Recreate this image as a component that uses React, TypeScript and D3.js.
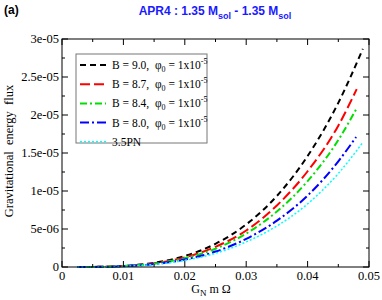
import React from "react";
import * as d3 from "d3";

const xsBlack = [0.0025, 0.005, 0.01, 0.015, 0.02, 0.025, 0.03, 0.035, 0.04, 0.045, 0.049];
const yBlack = [0.0002, 0.0013, 0.0144, 0.055, 0.145, 0.305, 0.56, 0.935, 1.46, 2.16, 2.87];
const xsRed = [0.0025, 0.005, 0.01, 0.015, 0.02, 0.025, 0.03, 0.035, 0.04, 0.045, 0.048];
const yRed = [0.0002, 0.0012, 0.013, 0.049, 0.127, 0.265, 0.48, 0.81, 1.26, 1.86, 2.34];
const xsGreen = [0.0025, 0.005, 0.01, 0.015, 0.02, 0.025, 0.03, 0.035, 0.04, 0.045, 0.048];
const yGreen = [0.0002, 0.0011, 0.012, 0.044, 0.115, 0.24, 0.44, 0.73, 1.13, 1.67, 2.09];
const xsBlue = [0.0025, 0.005, 0.01, 0.015, 0.02, 0.025, 0.03, 0.035, 0.04, 0.045, 0.0479];
const yBlue = [0.0002, 0.001, 0.01, 0.038, 0.098, 0.203, 0.37, 0.61, 0.94, 1.39, 1.71];
const xsCyan = [0.0025, 0.005, 0.01, 0.015, 0.02, 0.025, 0.03, 0.035, 0.04, 0.045, 0.049];
const yCyan = [0.0002, 0.0009, 0.009, 0.034, 0.087, 0.18, 0.33, 0.54, 0.83, 1.23, 1.64];

const xTicks = [0, 0.01, 0.02, 0.03, 0.04, 0.05];
const xTickLabels = ["0", "0.01", "0.02", "0.03", "0.04", "0.05"];
const yTicks = [0, 5e-6, 1e-5, 1.5e-5, 2e-5, 2.5e-5, 3e-5];
const yTickLabels = ["0", "5e-06", "1e-05", "1.5e-05", "2e-05", "2.5e-05", "3e-05"];
const legendB = ["9.0", "8.7", "8.4", "8.0"];

const series = [
  { xs: xsBlack, ys: yBlack, color: "#000000", dash: "6,4", w: 2 },
  { xs: xsRed, ys: yRed, color: "#ff0000", dash: "10,4", w: 2 },
  { xs: xsGreen, ys: yGreen, color: "#00e000", dash: "7,3,2,3", w: 2 },
  { xs: xsBlue, ys: yBlue, color: "#0000ff", dash: "9,3,2,3", w: 2 },
  { xs: xsCyan, ys: yCyan, color: "#00ffff", dash: "2,2", w: 1.5 },
];

export default function App() {
  const L = 62, R = 369, T = 39, B = 267;
  const x = d3.scaleLinear().domain([0, 0.05]).range([L, R]);
  const y = d3.scaleLinear().domain([0, 3e-5]).range([B, T]);
  const line = d3
    .line<[number, number]>()
    .x((d) => x(d[0]))
    .y((d) => y(d[1] * 1e-5))
    .curve(d3.curveMonotoneX);

  const xMinor = d3.range(0.005, 0.05, 0.01);
  const yMinor = d3.range(2.5e-6, 3e-5, 5e-6);
  const serif = "'Liberation Serif', 'DejaVu Serif', serif";
  const sans = "'Liberation Sans', Arial, sans-serif";

  return (
    <svg width={382} height={300} style={{ position: "absolute", left: 0, top: 0, background: "#fff" }}>
      <rect x={0} y={0} width={382} height={300} fill="#fff" />
      <text x={4} y={14} fontFamily={sans} fontWeight="bold" fontSize={12}>(a)</text>
      <text x={215} y={15} fontFamily={sans} fontWeight="bold" fontSize={12} fill="#1a1aff" textAnchor="middle">
        APR4 : 1.35 M<tspan fontSize={9} dy={4}>sol</tspan>
        <tspan dy={-4}> - 1.35 M</tspan>
        <tspan fontSize={9} dy={4}>sol</tspan>
      </text>

      {series.map((s, i) => (
        <path
          key={i}
          d={line(s.xs.map((v, j) => [v, s.ys[j]] as [number, number])) || ""}
          fill="none"
          stroke={s.color}
          strokeWidth={s.w}
          strokeDasharray={s.dash}
        />
      ))}

      <rect x={L} y={T} width={R - L} height={B - T} fill="none" stroke="#000" strokeWidth={1} />
      {xTicks.map((t, i) => (
        <g key={"xt" + i}>
          <line x1={x(t)} x2={x(t)} y1={B} y2={B - 6} stroke="#000" />
          <line x1={x(t)} x2={x(t)} y1={T} y2={T + 6} stroke="#000" />
          <text x={x(t)} y={280} fontFamily={serif} fontSize={12.5} textAnchor="middle">{xTickLabels[i]}</text>
        </g>
      ))}
      {xMinor.map((t, i) => (
        <g key={"xm" + i}>
          <line x1={x(t)} x2={x(t)} y1={B} y2={B - 3} stroke="#000" />
          <line x1={x(t)} x2={x(t)} y1={T} y2={T + 3} stroke="#000" />
        </g>
      ))}
      {yTicks.map((t, i) => (
        <g key={"yt" + i}>
          <line x1={L} x2={L + 6} y1={y(t)} y2={y(t)} stroke="#000" />
          <line x1={R} x2={R - 6} y1={y(t)} y2={y(t)} stroke="#000" />
          <text x={59} y={y(t) + 4} fontFamily={serif} fontSize={12.5} textAnchor="end">{yTickLabels[i]}</text>
        </g>
      ))}
      {yMinor.map((t, i) => (
        <g key={"ym" + i}>
          <line x1={L} x2={L + 3} y1={y(t)} y2={y(t)} stroke="#000" />
          <line x1={R} x2={R - 3} y1={y(t)} y2={y(t)} stroke="#000" />
        </g>
      ))}

      <text x={211} y={293} fontFamily={serif} fontSize={12} textAnchor="middle">
        G<tspan fontSize={9} dy={3}>N</tspan>
        <tspan dy={-3}> m Ω</tspan>
      </text>
      <text
        transform={`translate(13,${(T + B) / 2 - 2}) rotate(-90)`}
        fontFamily={serif}
        fontSize={12.5}
        textAnchor="middle"
        style={{ whiteSpace: "pre" }}
      >
        {"Gravitational  energy  flux"}
      </text>

      <rect x={76} y={54} width={131} height={89} fill="#fff" stroke="#777" strokeWidth={1} />
      {series.map((s, i) => {
        const ry = 65 + i * 19.2;
        return (
          <g key={"lg" + i}>
            <line x1={80} x2={106} y1={ry} y2={ry} stroke={s.color} strokeWidth={s.w} strokeDasharray={s.dash} />
            {i < 4 ? (
              <text x={112} y={ry + 4} fontFamily={serif} fontSize={11.5} style={{ whiteSpace: "pre" }}>
                {"B = " + legendB[i] + ",  φ"}
                <tspan fontSize={8} dy={3}>0</tspan>
                <tspan dy={-3}>{" = 1x10"}</tspan>
                <tspan fontSize={8} dy={-5}>-5</tspan>
              </text>
            ) : (
              <text x={112} y={ry + 4} fontFamily={serif} fontSize={11.5}>3.5PN</text>
            )}
          </g>
        );
      })}
    </svg>
  );
}
